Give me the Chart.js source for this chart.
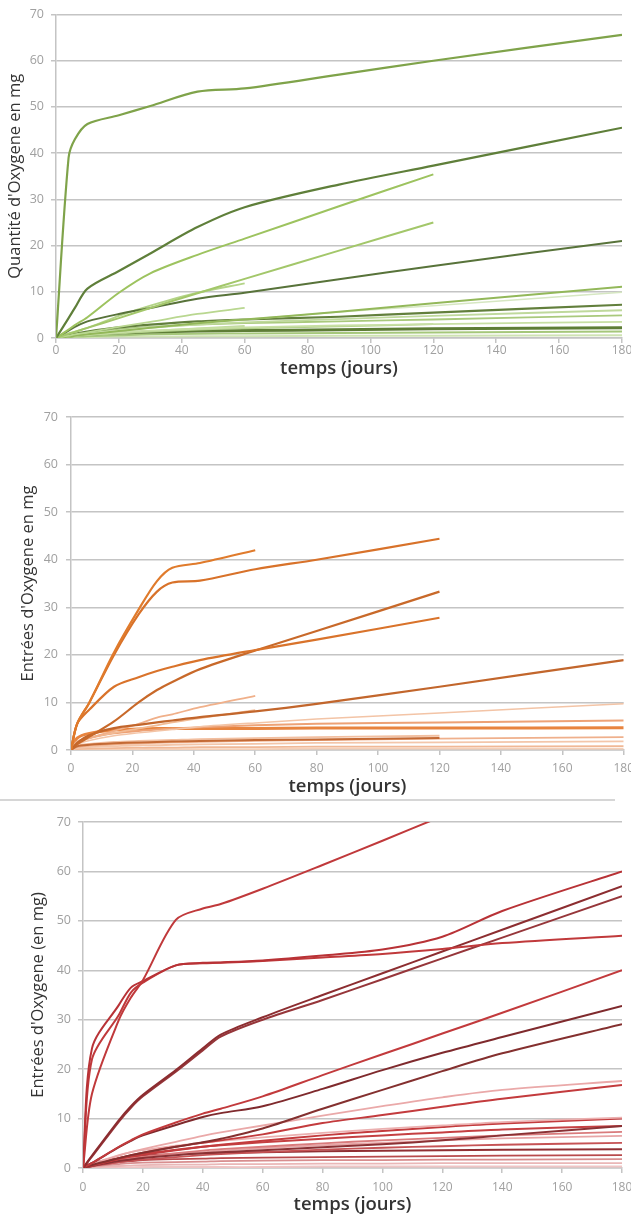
<!DOCTYPE html>
<html>
<head>
<meta charset="utf-8">
<script src="https://cdn.jsdelivr.net/npm/chart.js@4"></script>
<style>
  body { margin: 0; width: 631px; height: 1219px; overflow: hidden; background: #fff; position: relative; }
  canvas { position: absolute; left: 0; }
  .sep { position: absolute; left: 0; top: 799px; width: 615px; height: 2px; background: #d6d6d6; }
</style>
</head>
<body>
<canvas id="c1" width="640" height="398" style="top:0"></canvas>
<div class="sep"></div>
<canvas id="c2" width="640" height="398" style="top:400px"></canvas>
<canvas id="c3" width="640" height="416" style="top:803px"></canvas>
<script>
// x ticks / y ticks shared by the three panels
const xTicks = [0, 20, 40, 60, 80, 100, 120, 140, 160, 180];
const yTicks = [0, 10, 20, 30, 40, 50, 60, 70];

// panel 1 - green
const days1 = [0, 4, 6, 10, 20, 30, 45, 60, 90, 120, 180];
const green = [
  [0, 39, 43, 46.3, 48.2, 50.2, 53.3, 54, 57, 60, 65.6],
  [0, 4.3, 6.5, 10.7, 14.5, 18.3, 24, 28.3, 33.2, 37.3, 45.5],
  [0, 1.8, 2.8, 4.5, 9.8, 14, 18, 21.5, 28.5, 35.4],
  [0, 0.9, 1.3, 2.2, 4.3, 6.5, 9.7, 12.8, 18.9, 25],
  [0, 1.6, 2.4, 3.6, 5.2, 6.5, 8.5, 9.8, 12.7, 15.6, 21],
  [0, 1, 1.4, 2.2, 4.8, 7, 9.8, 11.8],
  [0, 0.5, 0.8, 1.2, 2.4, 3.5, 5.2, 6.5],
  [0, 0.3, 0.5, 0.8, 1.5, 2.2, 3.2, 4, 5.7, 7.5, 11.1],
  [0, 0.4, 0.6, 0.9, 1.6, 2.3, 3.2, 4, 5.6, 7, 9.9],
  [0, 0.6, 0.9, 1.4, 2.3, 2.9, 3.6, 4, 4.6, 5.5, 7.2],
  [0, 0.4, 0.6, 0.9, 1.6, 2.2, 2.9, 3.4, 4.1, 4.8, 6],
  [0, 0.5, 0.8, 1.2, 1.9, 2.4, 2.9, 3.2, 3.6, 4, 4.9],
  [0, 0.3, 0.5, 0.7, 1.2, 1.6, 2, 2.3, 2.7, 3, 3.5],
  [0, 0.3, 0.4, 0.6, 1, 1.4, 1.8, 2.1, 2.5, 3],
  [0, 0.4, 0.6, 0.8, 1.1, 1.3, 1.5, 1.6, 1.8, 2, 2.2],
  [0, 0.2, 0.3, 0.4, 0.6, 0.8, 0.9, 1, 1.1, 1.2, 1.4],
  [0, 0.1, 0.1, 0.2, 0.3, 0.3, 0.4, 0.4, 0.5, 0.5, 0.6],
  [0, 0.3, 0.4, 0.6, 1.1, 1.5, 2.1, 2.6]
];

// panel 2 - orange
const days2 = [0, 2, 6, 14, 22, 28, 33, 42, 60, 80, 120, 180];
const orange = [
  [0, 5.5, 10, 20.5, 29.5, 35.5, 38.3, 39.3, 42],
  [0, 5.5, 10, 20, 28.5, 33.3, 35.2, 35.6, 38, 40, 44.4],
  [0, 5.5, 8.5, 13.3, 15.3, 16.6, 17.5, 18.9, 21, 23.2, 27.8],
  [0, 1.2, 2.8, 6, 10, 12.6, 14.3, 17, 20.9, 25, 33.3],
  [0, 1.5, 3.1, 4.6, 5.3, 5.8, 6.2, 6.9, 8.1, 9.7, 13.3, 18.9],
  [0, 1.5, 2.5, 4, 5.5, 6.8, 7.5, 9, 11.4],
  [0, 1.8, 2.6, 3.6, 4.5, 5.2, 5.8, 6.7, 8.4],
  [0, 1.2, 2, 3, 3.6, 4, 4.3, 4.9, 5.7, 6.5, 7.8, 9.7],
  [0, 1.5, 2.5, 3.5, 4, 4.3, 4.5, 4.8, 5.2, 5.5, 5.8, 6.2],
  [0, 2.5, 3.5, 4.2, 4.4, 4.5, 4.5, 4.5, 4.5, 4.6, 4.6, 4.7],
  [0, 0.8, 1.1, 1.4, 1.6, 1.7, 1.8, 1.9, 2.1, 2.2, 2.5],
  [0, 0.9, 1.3, 1.7, 1.9, 2, 2.1, 2.3, 2.5, 2.7, 3],
  [0, 0.6, 0.9, 1.2, 1.4, 1.5, 1.6, 1.7, 1.9, 2.1, 2.4, 2.7],
  [0, 0.4, 0.6, 0.8, 1, 1, 1.1, 1.2, 1.3, 1.5, 1.6, 1.8],
  [0, 0.2, 0.3, 0.4, 0.5, 0.5, 0.5, 0.6, 0.6, 0.7, 0.7, 0.8],
  [0, 0.1, 0.1, 0.1, 0.2, 0.2, 0.2, 0.2, 0.2, 0.3, 0.3, 0.3]
];

// panel 3 - red
const days3 = [0, 3, 12, 16, 20, 31, 40, 46, 60, 80, 100, 120, 140, 180];
const red = [
  [0, 15, 30, 34.5, 38, 50.2, 52.5, 53.4, 56.5, 61.3, 66.2, 71.2],
  [0, 24.2, 33, 36.5, 37.8, 41, 41.5, 41.6, 42, 43, 44.2, 46.8, 52, 60],
  [0, 22, 31, 35.5, 37.5, 41, 41.4, 41.5, 41.9, 42.6, 43.3, 44.3, 45.5, 47],
  [0, 2.5, 9.7, 12.5, 14.8, 19.8, 24.2, 27, 30.5, 35, 39.4, 43.8, 48.2, 57],
  [0, 2.3, 9.4, 12.2, 14.5, 19.5, 23.8, 26.6, 30, 34, 38.2, 42.4, 46.6, 55],
  [0, 1, 4.3, 5.6, 6.8, 9.2, 11, 12, 14.5, 18.8, 23, 27.2, 31.4, 40],
  [0, 1, 4.2, 5.5, 6.6, 8.7, 10.3, 11.1, 12.5, 16, 19.8, 23.3, 26.5, 32.8],
  [0, 0.6, 2, 2.6, 3.1, 4.3, 5.2, 5.9, 8, 12, 15.8, 19.6, 23.2, 29.1],
  [0, 0.8, 2.5, 3.2, 3.8, 5.3, 6.5, 7.2, 8.6, 10.6, 12.5, 14.3, 15.8, 17.6],
  [0, 0.5, 2, 2.6, 3.1, 4.3, 5.1, 5.6, 6.8, 9.1, 10.7, 12.4, 14, 16.8],
  [0, 0.8, 2.6, 3.2, 3.6, 4.5, 5.1, 5.5, 6.2, 7.1, 7.9, 8.6, 9.3, 10.2],
  [0, 0.5, 1.8, 2.3, 2.7, 3.6, 4.3, 4.7, 5.5, 6.6, 7.5, 8.3, 9, 10],
  [0, 0.4, 1.4, 1.7, 2, 2.6, 3, 3.2, 3.6, 4.2, 4.8, 5.6, 6.6, 8.5],
  [0, 0.6, 2, 2.5, 2.9, 3.7, 4.3, 4.6, 5.2, 5.9, 6.6, 7.2, 7.8, 8.5],
  [0, 0.5, 1.6, 2, 2.3, 3, 3.5, 3.8, 4.3, 5, 5.6, 6.1, 6.6, 7.3],
  [0, 0.5, 1.5, 1.9, 2.2, 2.8, 3.2, 3.5, 4, 4.6, 5.1, 5.6, 6, 6.5],
  [0, 0.4, 1.2, 1.5, 1.7, 2.2, 2.6, 2.8, 3.2, 3.7, 4.1, 4.4, 4.7, 5.1],
  [0, 1, 2, 2.3, 2.5, 2.8, 3, 3.1, 3.2, 3.4, 3.5, 3.6, 3.7, 3.8],
  [0, 0.5, 1.2, 1.4, 1.6, 1.8, 1.9, 2, 2.1, 2.2, 2.3, 2.4, 2.5, 2.6],
  [0, 0.3, 0.8, 1, 1.1, 1.2, 1.3, 1.4, 1.5, 1.6, 1.6, 1.7, 1.7, 1.8],
  [0, 0.2, 0.4, 0.5, 0.6, 0.7, 0.7, 0.8, 0.8, 0.9, 0.9, 1, 1, 1],
  [0, 0.1, 0.1, 0.1, 0.2, 0.2, 0.2, 0.2, 0.2, 0.3, 0.3, 0.3, 0.3, 0.3]
];

// line styles (kept apart from the data)
const greenColors = ["#7fa34a", "#5f7f3a", "#9dc35f", "#a3c76a", "#58733a", "#b4d488", "#b9d790", "#93b85a",
  "#d6e7c2", "#627f3c", "#bfd99c", "#a9c97c", "#c8dfa4", "#b2d08a", "#5e7d36", "#a5c77a", "#cfe3b3", "#c2dba0"];
const greenWidths = [2.2, 2.2, 2, 2, 2, 1.8, 1.8, 2, 1.5, 2.2, 1.8, 1.8, 1.8, 1.8, 3, 2, 2, 1.8];

const orangeColors = ["#e07b2c", "#d8722a", "#d9732b", "#c8692a", "#c2662c", "#f0b08a", "#f2bb95", "#f3c4a6",
  "#eda276", "#e8843f", "#c46a35", "#f2bfa0", "#efb08c", "#f3c6aa", "#f0b896", "#f5d0b8"];
const orangeWidths = [2.2, 2.2, 2.2, 2.2, 2.2, 1.8, 1.8, 1.5, 2, 3, 2, 1.8, 1.8, 1.8, 1.8, 1.8];

const redColors = ["#c0393b", "#b83236", "#c0393b", "#8c2d30", "#96363a", "#c23a3c", "#7f2a2d", "#84302f",
  "#eaa9a9", "#c33b3d", "#ebb0b0", "#c33b3d", "#8a3134", "#c54042", "#d97b7c", "#e7a5a6", "#c65355",
  "#902f33", "#b84a4c", "#d88e8f", "#eab7b7", "#efc5c5"];
const redWidths = [2, 2, 2, 2, 2, 2, 2, 2, 1.8, 2, 1.8, 2, 2, 2, 1.8, 1.8, 1.8, 2, 1.8, 1.8, 1.8, 1.8];

const gridColor = "#c4c4c4";
const tickColor = "#a0a0a0";

function buildChart(id, days, series, colors, widths, box) {
    const canvas = document.getElementById(id);
    const H = canvas.height;
    const datasets = series.map((vals, i) => ({
        data: vals.map((v, j) => ({ x: days[j], y: v })),
        borderColor: colors[i],
        borderWidth: widths[i],
        pointRadius: 0,
        fill: false,
        tension: 0.3,
        borderJoinStyle: "round",
        clip: 0
    }));

    new Chart(canvas, {
        type: "line",
        data: { datasets },
        options: {
            responsive: false,
            animation: false,
            events: [],
            layout: { padding: { left: 0, top: box.top, right: canvas.width - box.right, bottom: 0 } },
            plugins: { legend: { display: false }, tooltip: { enabled: false } },
            scales: {
                x: {
                    type: "linear",
                    min: xTicks[0],
                    max: xTicks[xTicks.length - 1],
                    afterBuildTicks: s => { s.ticks = xTicks.map(v => ({ value: v })); },
                    afterFit: s => { s.height = H - box.bottom; },
                    ticks: { color: tickColor, font: { family: "Open Sans", size: 12 }, padding: box.xTickPad, maxRotation: 0 },
                    grid: { drawOnChartArea: false, color: gridColor, lineWidth: 1.5, tickLength: 5 },
                    border: { color: gridColor, width: 1.5 },
                    title: {
                        display: true, text: "temps (jours)", color: "#333",
                        font: { family: "Open Sans", size: 18.5, weight: "600" },
                        padding: { top: 0, bottom: box.xTitlePad }
                    }
                },
                y: {
                    type: "linear",
                    min: yTicks[0],
                    max: yTicks[yTicks.length - 1],
                    afterBuildTicks: s => { s.ticks = yTicks.map(v => ({ value: v })); },
                    afterFit: s => { s.width = box.left; },
                    ticks: { color: tickColor, font: { family: "Open Sans", size: 12.5 }, padding: box.yTickPad },
                    grid: { color: gridColor, lineWidth: 1.5, tickLength: 5 },
                    border: { color: gridColor, width: 1.5 },
                    title: {
                        display: true, text: box.yTitle, color: "#333",
                        font: { family: "Open Sans", size: 16.5 },
                        padding: { top: box.yTitlePad, bottom: 0 }
                    }
                }
            }
        }
    });
}

buildChart("c1", days1, green, greenColors, greenWidths, {
    left: 56, top: 10, right: 622, bottom: 338,
    yTitle: "Quantité d'Oxygene en mg", yTitlePad: 5, xTitlePad: 18, yTickPad: 7, xTickPad: 0
});
buildChart("c2", days2, orange, orangeColors, orangeWidths, {
    left: 71, top: 17, right: 625, bottom: 350,
    yTitle: "Entrées d'Oxygene en mg", yTitlePad: 18, xTitlePad: 0, yTickPad: 8, xTickPad: 6
});
buildChart("c3", days3, red, redColors, redWidths, {
    left: 83, top: 19, right: 622, bottom: 365,
    yTitle: "Entrées d'Oxygene (en mg)", yTitlePad: 28, xTitlePad: 3, yTickPad: 7, xTickPad: 7
});
</script>
</body>
</html>
